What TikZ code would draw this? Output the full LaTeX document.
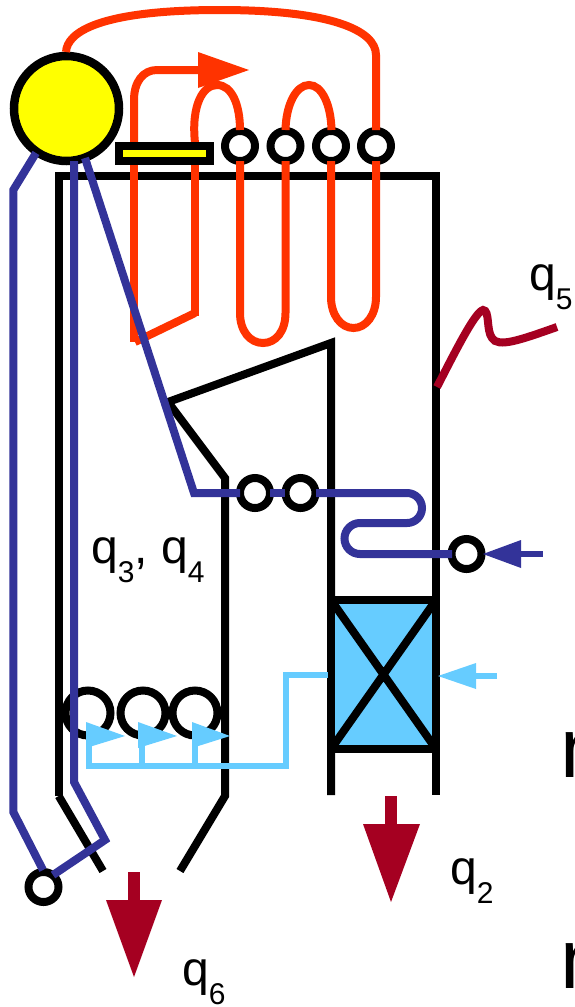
\documentclass[tikz,border=0pt]{standalone}
\usepackage{fontspec}
\setmainfont{Liberation Sans}
\definecolor{orng}{HTML}{FF3300}
\definecolor{navy}{HTML}{333399}
\definecolor{sky}{HTML}{66CCFF}
\definecolor{wine}{HTML}{A50021}
\definecolor{yell}{HTML}{FFFF00}
\newcommand{\qsub}[1]{\raisebox{-19pt}[0pt][0pt]{\fontsize{30}{30}\selectfont #1}}
\tikzset{
  wall/.style={draw=black,line width=8pt,miter limit=10},
  ring/.style={draw=black,fill=white,line width=8pt},
  bigring/.style={draw=black,line width=8pt},
  hot/.style={draw=orng,line width=8pt},
  feed/.style={draw=navy,line width=8pt},
  air/.style={draw=sky,line width=6pt},
  flue/.style={draw=wine,line width=8pt},
  lab/.style={inner sep=0pt,anchor=base west,font=\fontsize{48}{48}\selectfont,text=black}
}
\begin{document}
\begin{tikzpicture}[x=1pt,y=-1pt]
\useasboundingbox (0,0) rectangle (575,1007);
\clip (0,0) rectangle (575,1007);
% walls
\draw[wall] (58.7,796) -- (58.7,176) -- (436,176) -- (436,795);
\draw[wall] (58.7,796) -- (103,871);
\draw[wall] (180,871) -- (225,796) -- (225,478) -- (168,402) -- (331,343) -- (331,795);
% air heater
\draw[wall,fill=sky,line width=8pt] (331,600) rectangle (436,749);
\draw[wall] (331,600) -- (436,749) (436,600) -- (331,749);
% drum
\draw[draw=black,fill=yell,line width=8.5pt] (66.5,108.5) circle (52.5);
% tube rings
\foreach \x in {240,285.5,331,376} \draw[ring] (\x,146) circle (15);
\foreach \x in {88,143,195} \draw[bigring] (\x,713) circle (22.5);
\draw[ring] (255,493) circle (15);
\draw[ring] (300.5,493) circle (15);
\draw[ring] (466.5,554) circle (15);
\draw[ring] (43.5,887) circle (15);
% superheater tubes
\draw[hot] (66,52) .. controls (67,32) and (100,10) .. (220,10) .. controls (330,10) and (376,30) .. (376,55) -- (376,130);
\draw[hot] (134,145) -- (134,100) .. controls (134,82) and (143,70) .. (157,70) -- (200,70);
\fill[orng] (198,52) -- (249,70) -- (198,88) -- cycle;
\draw[hot] (195,143) .. controls (191,105) and (203,85) .. (217,85) .. controls (232,85) and (240,105) .. (240,130);
\draw[hot] (285.5,130) .. controls (286,105) and (296,85) .. (309,85) .. controls (322,85) and (331,105) .. (331.5,130);
\draw[hot] (134,161) -- (134,342);
\draw[hot] (135,342) -- (195,313);
\draw[hot] (194.5,316) -- (194.5,161);
\draw[hot] (240,161) -- (240,313) .. controls (240,331) and (250,343) .. (263,343) .. controls (276,343) and (285.5,331) .. (285.5,313) -- (285.5,161);
\draw[hot] (331,161) -- (331,297) .. controls (331,315) and (341,328) .. (353.5,328) .. controls (366,328) and (376,315) .. (376,297) -- (376,161);
% yellow bar
\draw[draw=black,fill=yell,line width=8pt] (119,146) rectangle (210,161);
% water/steam tubes
\draw[feed] (36,153) -- (13.3,190) -- (13.3,812) -- (43,870);
\draw[feed] (74,161) -- (74,782) -- (105,840) -- (53,875);
\draw[feed] (85,158) -- (194,493) -- (240,493);
\draw[feed] (270,493) -- (285,493);
\draw[feed] (316,493) -- (407,493) arc[start angle=-90,end angle=90,radius=15] -- (360,523) arc[start angle=270,end angle=90,radius=15.5] -- (452,554);
% feed inlet arrow
\draw[draw=navy,line width=6pt] (515,554) -- (543,554);
\fill[navy] (483,554) -- (521,540) -- (521,568) -- cycle;
% air ducts
\draw[air] (328,675) -- (286,675) -- (286,766) -- (89,766);
\draw[air] (89,769) -- (89,738);
\draw[air] (142,766) -- (142,738);
\draw[air] (195,766) -- (195,738);
\fill[sky] (86,722) -- (125,736) -- (86,748) -- cycle;
\fill[sky] (138,722) -- (177,736) -- (138,748) -- cycle;
\fill[sky] (192,722) -- (230,736) -- (192,748) -- cycle;
\draw[air] (475,676) -- (497,676);
\fill[sky] (438,676) -- (476,663) -- (476,689) -- cycle;
% heat-loss arrows
\draw[flue] (437,387) .. controls (455,352) and (475,312) .. (483,310) .. controls (490,310) and (486,330) .. (492,338) .. controls (498,348) and (520,340) .. (557,327);
\fill[wine] (128,872) rectangle (140,902);
\fill[wine] (106,900) -- (162,900) -- (134,977) -- cycle;
\fill[wine] (385,796) rectangle (397,826);
\fill[wine] (363,824) -- (420,824) -- (391,902) -- cycle;
% labels
\node[lab] (q34) at (91,563) {q\qsub{3}, q\qsub{4}};
\node[lab] (q5) at (529,290) {q\qsub{5}};
\node[lab] (q2) at (450,884) {q\qsub{2}};
\node[lab] (q6) at (182,985) {q\qsub{6}};
\node[inner sep=0pt,anchor=base west,font=\fontsize{85}{85}\selectfont] (cutA) at (560,777) {n};
\node[inner sep=0pt,anchor=base west,font=\fontsize{85}{85}\selectfont] (cutB) at (560,988) {n};
\end{tikzpicture}
\end{document}
